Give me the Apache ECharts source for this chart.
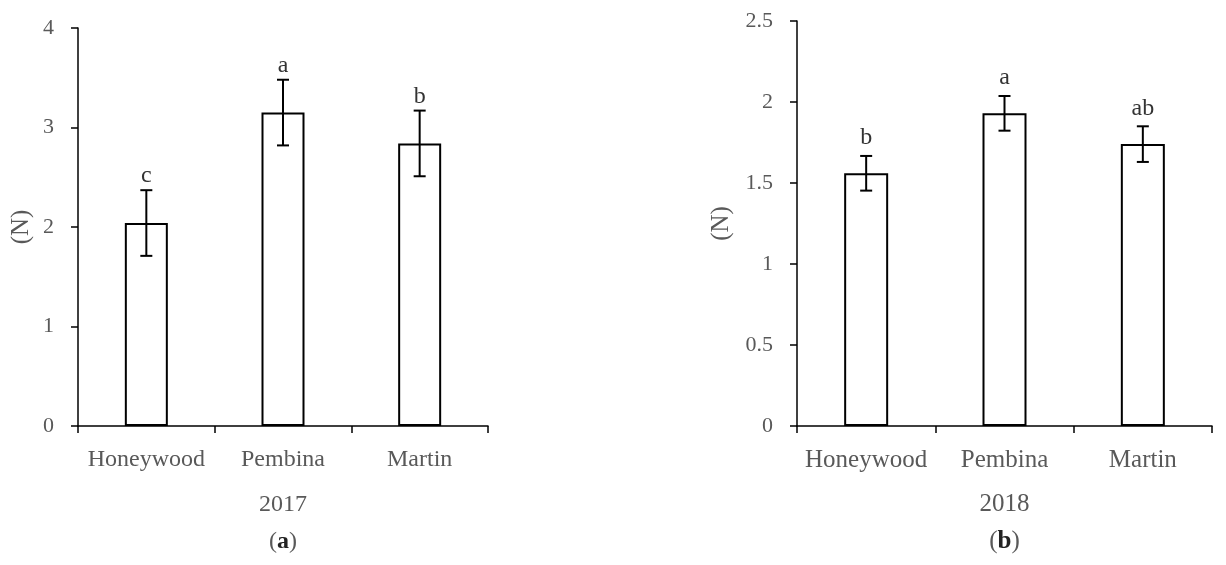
<!DOCTYPE html>
<html>
<head>
<meta charset="utf-8">
<script src="https://cdn.jsdelivr.net/npm/echarts@6/dist/echarts.min.js"></script>
<style>
  html, body { margin: 0; padding: 0; background: #fff; }
  #chart { width: 1226px; height: 565px; }
</style>
</head>
<body>
<div id="chart"></div>
<script>
// 数据
var categories = ['Honeywood', 'Pembina', 'Martin'];
var means2017 = [2.04, 3.15, 2.84];
var errors2017 = [0.33, 0.33, 0.33];
var letters2017 = ['c', 'a', 'b'];
var means2018 = [1.56, 1.93, 1.74];
var errors2018 = [0.107, 0.107, 0.11];
var letters2018 = ['b', 'a', 'ab'];
var yTicks2017 = [0, 4, 1];     // min, max, interval
var yTicks2018 = [0, 2.5, 0.5];

var FONT = '"Liberation Serif", "DejaVu Serif", serif';
var GRAY = '#595959';

var myChart = echarts.init(document.getElementById('chart'));

function errRows(means, errs) {
    return means.map(function (m, i) { return [i, m, errs[i]]; });
}

// 误差线 + 显著性字母
function errorBar(letters, gap) {
    return function (params, api) {
        var x = api.value(0);
        var mean = api.value(1);
        var err = api.value(2);
        var hi = api.coord([x, mean + err]);
        var lo = api.coord([x, mean - err]);
        var half = 6;
        var style = { stroke: '#000', lineWidth: 2 };
        return {
            type: 'group',
            children: [
                { type: 'line', shape: { x1: hi[0], y1: hi[1], x2: lo[0], y2: lo[1] }, style: style },
                { type: 'line', shape: { x1: hi[0] - half, y1: hi[1], x2: hi[0] + half, y2: hi[1] }, style: style },
                { type: 'line', shape: { x1: lo[0] - half, y1: lo[1], x2: lo[0] + half, y2: lo[1] }, style: style },
                {
                    type: 'text', x: hi[0], y: hi[1] - gap,
                    style: {
                        text: letters[params.dataIndex],
                        align: 'center', verticalAlign: 'bottom',
                        fontFamily: FONT, fontSize: 24, fill: '#333'
                    }
                }
            ]
        };
    };
}

function xAxisCfg(idx, year, tag, fontSize, gap) {
    return {
        type: 'category',
        gridIndex: idx,
        data: categories,
        axisLine: { lineStyle: { color: '#000', width: 1.5 } },
        axisTick: { show: true, interval: 0, length: 7, lineStyle: { color: '#000', width: 1.5 } },
        axisLabel: { interval: 0, color: GRAY, fontFamily: FONT, fontSize: fontSize, margin: 22 },
        name: year + '\n{p|(}{b|' + tag + '}{p|)}',
        nameLocation: 'middle',
        nameGap: gap,
        nameTextStyle: {
            color: GRAY, fontFamily: FONT, fontSize: fontSize, lineHeight: 37,
            rich: {
                p: { color: GRAY, fontFamily: FONT, fontSize: fontSize, lineHeight: 37 },
                b: { color: '#222', fontFamily: FONT, fontSize: fontSize, fontWeight: 'bold', lineHeight: 37 }
            }
        }
    };
}

function yAxisCfg(idx, ticks, gap) {
    return {
        type: 'value',
        gridIndex: idx,
        min: ticks[0],
        max: ticks[1],
        interval: ticks[2],
        splitLine: { show: false },
        axisLine: { show: true, lineStyle: { color: '#000', width: 1.5 } },
        axisTick: { show: true, length: 7, lineStyle: { color: '#000', width: 1.5 } },
        axisLabel: { color: GRAY, fontFamily: FONT, fontSize: 22, margin: 24 },
        name: '(N)',
        nameLocation: 'middle',
        nameRotate: 90,
        nameGap: gap,
        nameTextStyle: { color: GRAY, fontFamily: FONT, fontSize: 25 }
    };
}

var barStyle = { color: '#fff', borderColor: '#000', borderWidth: 2 };

var option = {
    animation: false,
    grid: [
        { left: 78, top: 28, width: 410, height: 399 },
        { left: 797, top: 21, width: 415, height: 414 }
    ],
    xAxis: [
        xAxisCfg(0, '2017', 'a', 24, 60),
        xAxisCfg(1, '2018', 'b', 25, 60)
    ],
    yAxis: [
        yAxisCfg(0, yTicks2017, 44),
        yAxisCfg(1, yTicks2018, 63)
    ],
    series: [
        { type: 'bar', xAxisIndex: 0, yAxisIndex: 0, data: means2017, barWidth: 43, itemStyle: barStyle, z: 2 },
        { type: 'bar', xAxisIndex: 1, yAxisIndex: 1, data: means2018, barWidth: 44, itemStyle: barStyle, z: 2 },
        { type: 'custom', xAxisIndex: 0, yAxisIndex: 0, data: errRows(means2017, errors2017),
          renderItem: errorBar(letters2017, 2), z: 5 },
        { type: 'custom', xAxisIndex: 1, yAxisIndex: 1, data: errRows(means2018, errors2018),
          renderItem: errorBar(letters2018, 6), z: 5 }
    ]
};
myChart.setOption(option);
</script>
</body>
</html>
